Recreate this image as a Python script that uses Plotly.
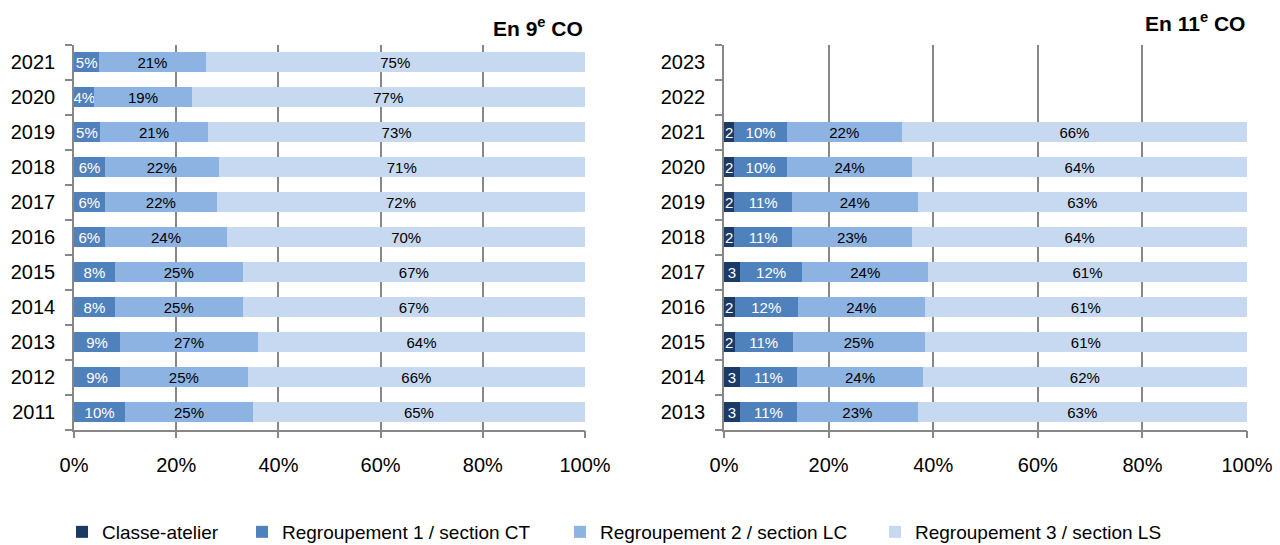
import plotly.graph_objects as go

# --- data -------------------------------------------------------------
years_9 = ["2011", "2012", "2013", "2014", "2015", "2016", "2017", "2018", "2019", "2020", "2021"]
r1_9 = [10, 9, 9, 8, 8, 6, 6, 6, 5, 4, 5]
r2_9 = [25, 25, 27, 25, 25, 24, 22, 22, 21, 19, 21]
r3_9 = [65, 66, 64, 67, 67, 70, 72, 71, 73, 77, 75]

years_11 = ["2013", "2014", "2015", "2016", "2017", "2018", "2019", "2020", "2021", "2022", "2023"]
ca_11 = [3, 3, 2, 2, 3, 2, 2, 2, 2, None, None]
r1_11 = [11, 11, 11, 12, 12, 11, 11, 10, 10, None, None]
r2_11 = [23, 24, 25, 24, 24, 23, 24, 24, 22, None, None]
r3_11 = [63, 62, 61, 61, 61, 64, 63, 64, 66, None, None]

series_names = ["Classe-atelier", "Regroupement 1 / section CT",
                "Regroupement 2 / section LC", "Regroupement 3 / section LS"]
colors = ["#1B3A66", "#4F81BD", "#8DB3E2", "#C6D9F1"]
text_colors = ["white", "white", "black", "black"]
x_ticks = [0, 20, 40, 60, 80, 100]

FONT = "Liberation Sans, Arial"


def pct(v):
    return [None if x is None else f"{x}%" for x in v]


def plain(v):
    return [None if x is None else f"{x}" for x in v]


fig = go.Figure()

legend_ids = ["legend", "legend2", "legend3", "legend4"]


def add_bar(x, y, idx, text, xa, ya, show):
    fig.add_trace(go.Bar(
        x=x, y=y, orientation="h", name=series_names[idx],
        marker=dict(color=colors[idx], line=dict(width=0)),
        text=text, textposition="inside", insidetextanchor="middle",
        textangle=0, constraintext="none", cliponaxis=False,
        insidetextfont=dict(color=text_colors[idx], size=15, family=FONT),
        xaxis=xa, yaxis=ya, showlegend=show, legend=legend_ids[idx],
        hoverinfo="skip",
    ))


# left panel: 9e CO
add_bar(r1_9, years_9, 1, pct(r1_9), "x", "y", False)
add_bar(r2_9, years_9, 2, pct(r2_9), "x", "y", False)
add_bar(r3_9, years_9, 3, pct(r3_9), "x", "y", False)

# right panel: 11e CO
add_bar(ca_11, years_11, 0, plain(ca_11), "x2", "y2", True)
add_bar(r1_11, years_11, 1, pct(r1_11), "x2", "y2", True)
add_bar(r2_11, years_11, 2, pct(r2_11), "x2", "y2", True)
add_bar(r3_11, years_11, 3, pct(r3_11), "x2", "y2", True)

W, H = 1280, 545
y_dom = [1 - 429.5 / H, 1 - 44.5 / H]

xaxis_common = dict(
    range=[0, 100], tickvals=x_ticks, ticktext=[f"{t}%" for t in x_ticks],
    showgrid=True, gridcolor="#878787", gridwidth=1.6,
    showline=True, linecolor="#878787", linewidth=1.6,
    ticks="outside", ticklen=7, tickwidth=1.6, tickcolor="#878787",
    tickfont=dict(family=FONT, size=20, color="black"),
    ticklabelstandoff=10, zeroline=False, fixedrange=True, automargin=False,
)
yaxis_common = dict(
    type="category", showgrid=False,
    showline=True, linecolor="#878787", linewidth=1.6,
    ticks="outside", tickson="boundaries", ticklen=7, tickwidth=1.6, tickcolor="#878787",
    tickfont=dict(family=FONT, size=20, color="black"),
    ticklabelstandoff=13, range=[-0.5, 10.5], fixedrange=True, automargin=False,
)

# left edge of each legend entry's text
legend_text_x = [100, 280, 598, 913]
legends = {}
for i, lid in enumerate(legend_ids):
    legends[lid] = dict(
        x=(legend_text_x[i] - 38) / W, xanchor="left", y=1 - 532 / H, yanchor="middle",
        orientation="h", bgcolor="rgba(0,0,0,0)", borderwidth=0,
        font=dict(family=FONT, size=19, color="black"),
        traceorder="normal",
    )

fig.update_layout(
    width=W, height=H,
    margin=dict(l=0, r=0, t=0, b=0, autoexpand=False),
    paper_bgcolor="white", plot_bgcolor="white",
    barmode="stack", barnorm="percent", bargap=0.43,
    xaxis=dict(domain=[74 / W, 585 / W], anchor="y", **xaxis_common),
    yaxis=dict(domain=y_dom, anchor="x", categoryorder="array", categoryarray=years_9, **yaxis_common),
    xaxis2=dict(domain=[724 / W, 1247 / W], anchor="y2", **xaxis_common),
    yaxis2=dict(domain=y_dom, anchor="x2", categoryorder="array", categoryarray=years_11, **yaxis_common),
    annotations=[
        dict(text="<b>En 9<sup>e</sup> CO</b>", x=585 / W, y=1 - 27 / H, xref="paper", yref="paper",
             xanchor="right", yanchor="middle", showarrow=False,
             font=dict(family=FONT, size=21, color="black")),
        dict(text="<b>En 11<sup>e</sup> CO</b>", x=1247 / W, y=1 - 22 / H, xref="paper", yref="paper",
             xanchor="right", yanchor="middle", showarrow=False,
             font=dict(family=FONT, size=21, color="black")),
    ],
    showlegend=True,
    **legends,
)

fig.write_html("out.html")
